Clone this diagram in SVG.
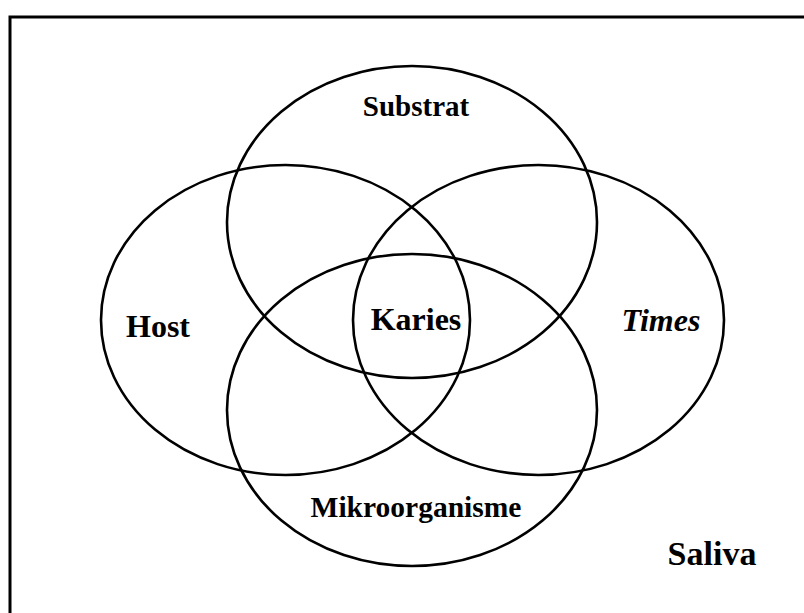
<svg xmlns="http://www.w3.org/2000/svg" width="804" height="613" viewBox="0 0 804 613">
<style>
.e{fill:none;stroke:#000;stroke-width:2.6}
.t{font-family:"Liberation Serif","Times New Roman",serif;font-weight:bold;fill:#000;text-anchor:middle}
.b{fill:none;stroke:#000;stroke-width:3}
</style>
<rect width="804" height="613" fill="#fff"/>
<g id="frame"><path class="b" d="M10,613 V17 H804"/></g>
<g id="substrat"><ellipse class="e" cx="412" cy="222" rx="185" ry="156"/><text class="t" x="416" y="116" font-size="29">Substrat</text></g>
<g id="host"><ellipse class="e" cx="285.5" cy="320" rx="184.5" ry="155"/><text class="t" x="158" y="337" font-size="32">Host</text></g>
<g id="times"><ellipse class="e" cx="538.5" cy="320" rx="185.5" ry="155"/><text class="t" x="661" y="331" font-size="32" font-style="italic">Times</text></g>
<g id="mikroorganisme"><ellipse class="e" cx="412" cy="410" rx="185" ry="156"/><text class="t" x="416" y="517" font-size="29.5">Mikroorganisme</text></g>
<g id="karies"><text class="t" x="416" y="330" font-size="32">Karies</text></g>
<g id="saliva"><text class="t" x="712" y="565" font-size="34">Saliva</text></g>
<g id="connectors"/>
</svg>
